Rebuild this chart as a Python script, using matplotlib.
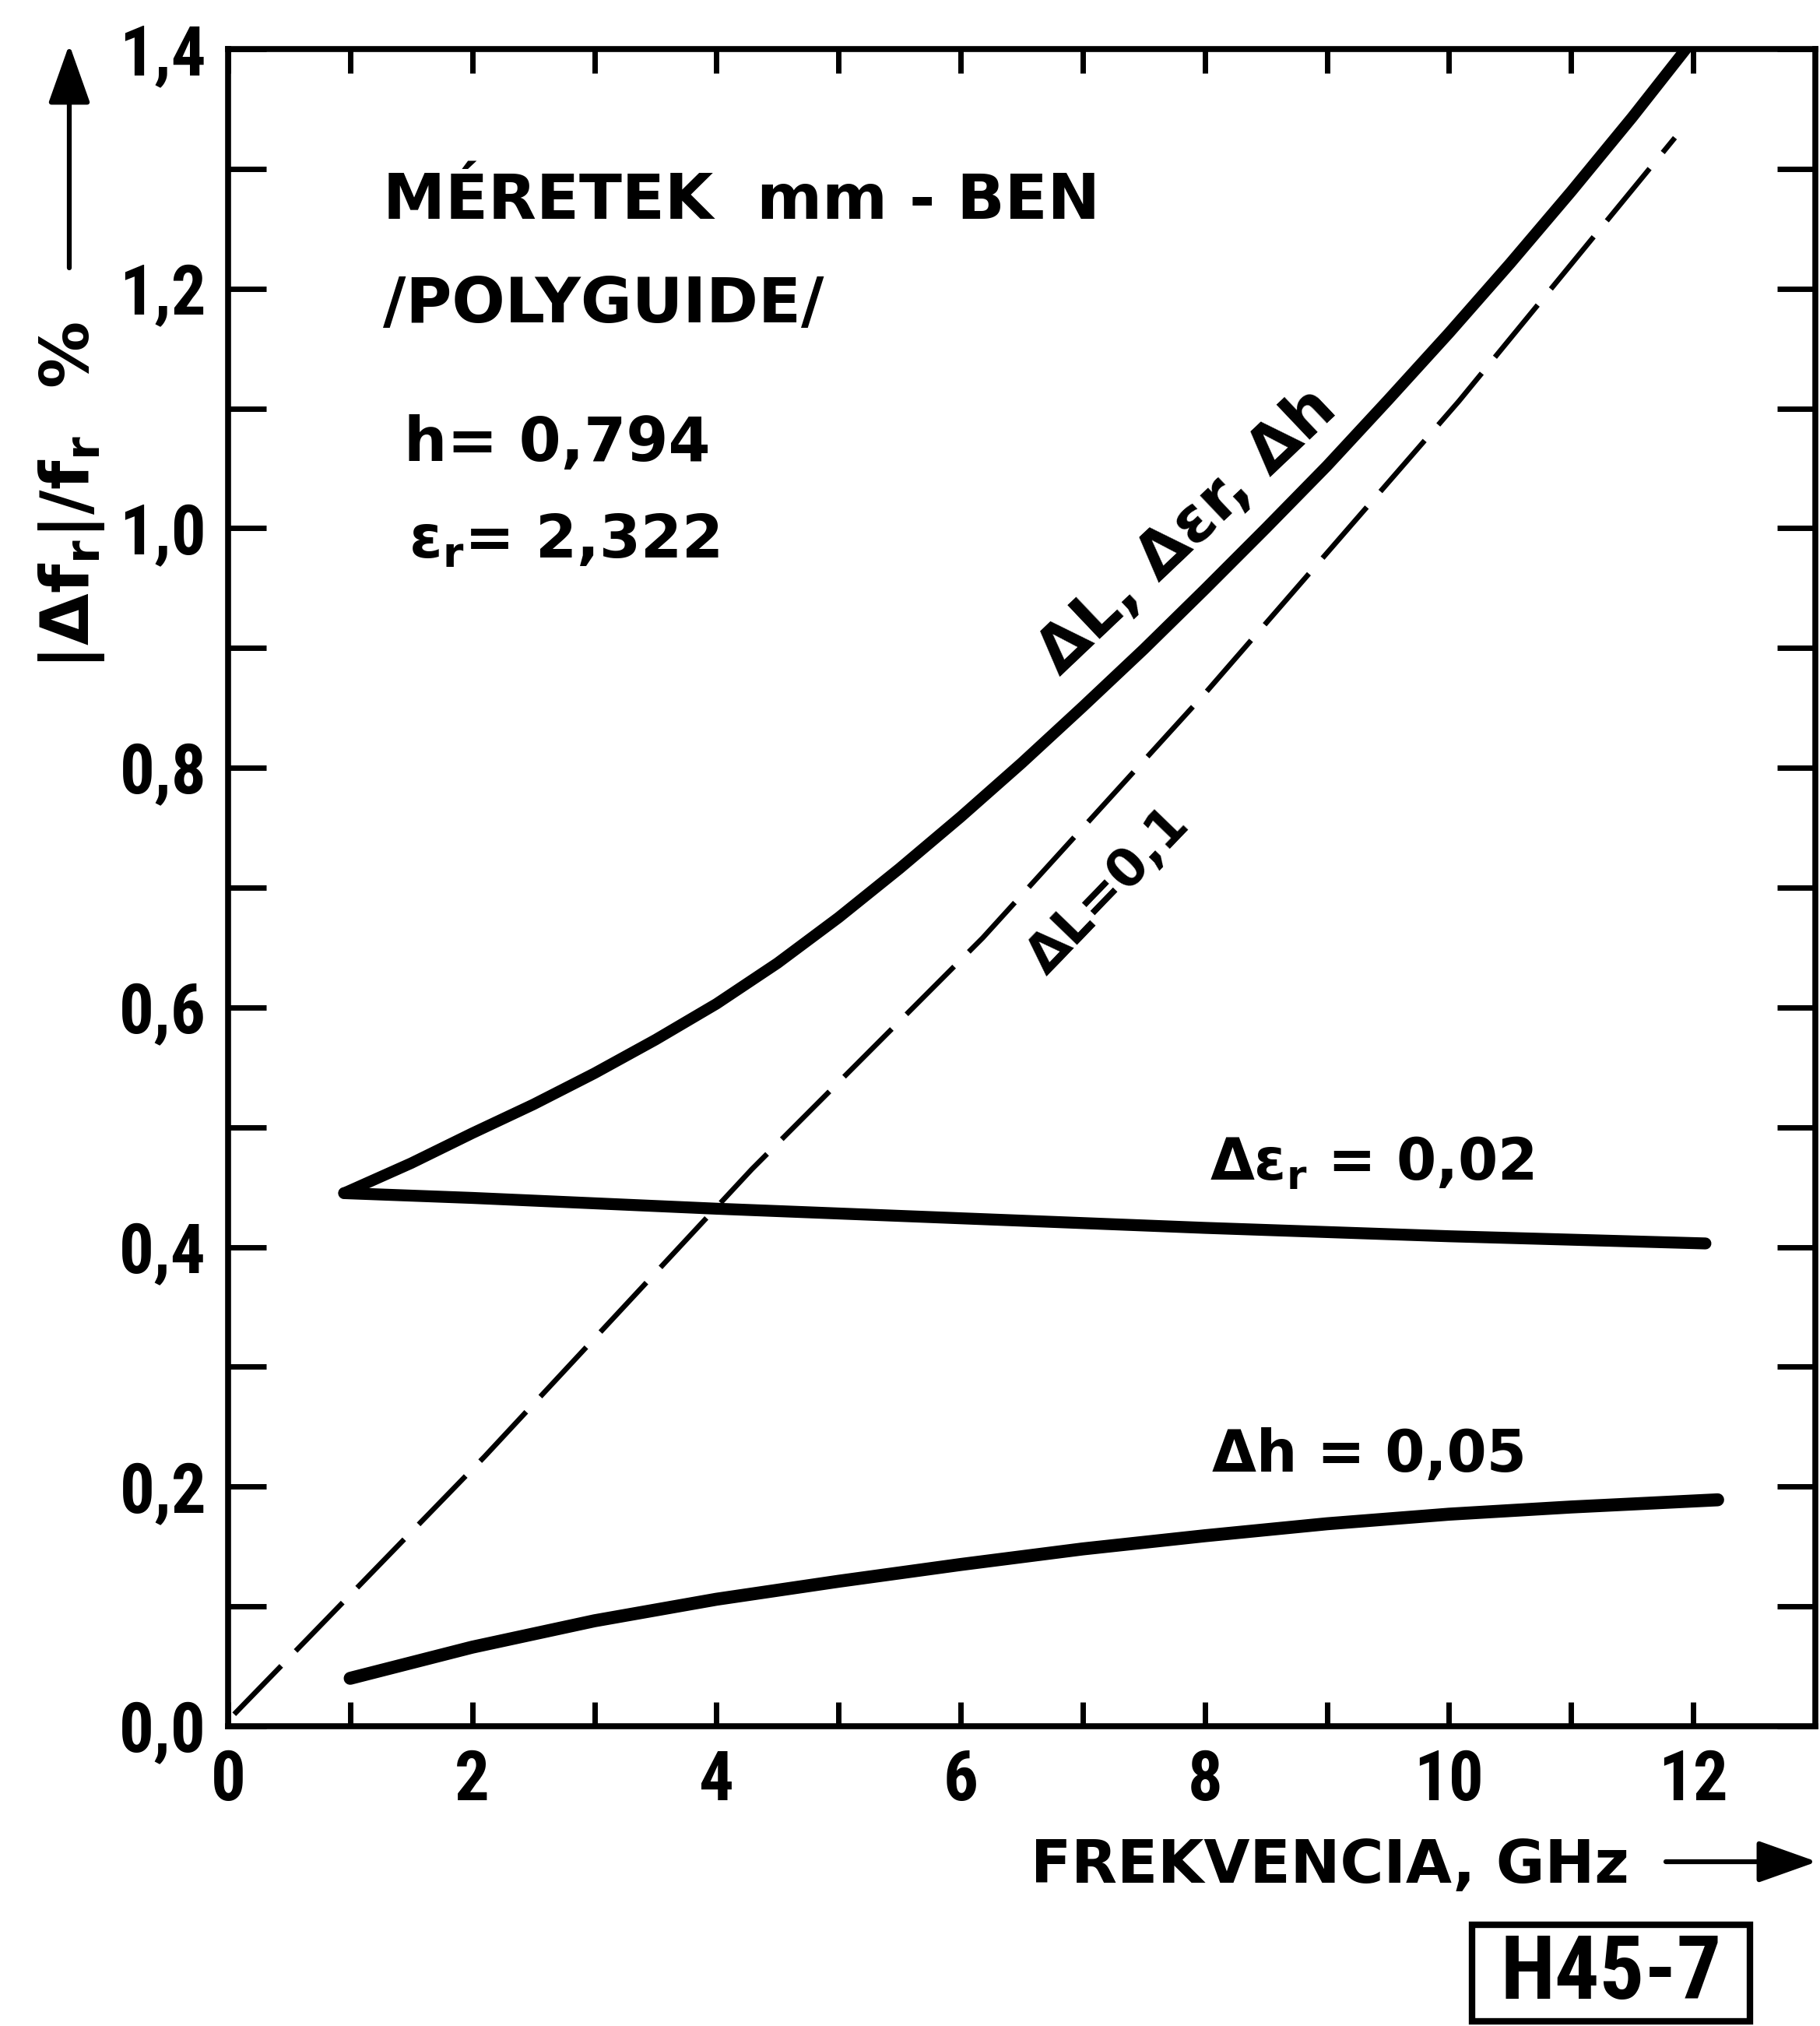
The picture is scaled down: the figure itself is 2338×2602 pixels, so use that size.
import matplotlib
matplotlib.use("Agg")
import matplotlib.pyplot as plt
from matplotlib import font_manager as fm
from matplotlib.patches import Rectangle

W, H, DPI = 2338, 2602, 100

# ---------------- data ----------------
freq_main = [0.95, 1.5, 2.0, 2.5, 3.0, 3.5, 4.0, 4.5, 5.0, 5.5, 6.0, 6.5, 7.0, 7.5,
             8.0, 8.5, 9.0, 9.5, 10.0, 10.5, 11.0, 11.5, 11.94]
df_main = [0.445, 0.470, 0.495, 0.519, 0.545, 0.573, 0.603, 0.637, 0.675, 0.716, 0.759, 0.804,
           0.851, 0.899, 0.949, 1.000, 1.052, 1.107, 1.163, 1.221, 1.281, 1.343, 1.400]

freq_dL = [0.05, 2.1, 4.29, 6.18, 8.0, 10.08, 11.85]
df_dL = [0.010, 0.225, 0.465, 0.658, 0.862, 1.106, 1.326]

freq_deps = [0.95, 2.0, 4.0, 6.0, 8.0, 10.0, 12.1]
df_deps = [0.445, 0.441, 0.432, 0.424, 0.416, 0.409, 0.403]

freq_dh = [1.0, 2.0, 3.0, 4.0, 5.0, 6.0, 7.0, 8.0, 9.0, 10.0, 11.0, 12.2]
df_dh = [0.040, 0.066, 0.088, 0.106, 0.121, 0.135, 0.148, 0.159, 0.169, 0.177, 0.183, 0.189]

x_ticks = list(range(0, 13))
x_ticklabels = ["0", "", "2", "", "4", "", "6", "", "8", "", "10", "", "12"]
y_ticks = [0.0, 0.1, 0.2, 0.3, 0.4, 0.5, 0.6, 0.7, 0.8, 0.9, 1.0, 1.1, 1.2, 1.3, 1.4]
y_ticklabels = ["0,0", "", "0,2", "", "0,4", "", "0,6", "", "0,8", "", "1,0", "", "1,2", "", "1,4"]


# ---------------- fonts ----------------
def pick(names):
    for n in names:
        try:
            fm.findfont(fm.FontProperties(family=n), fallback_to_default=False)
            return n
        except Exception:
            pass
    return None


COND = pick(["Roboto Condensed", "Open Sans Condensed", "Liberation Sans Narrow",
             "DejaVu Sans Condensed", "Noto Sans Condensed"])
BASE = "DejaVu Sans"
plt.rcParams["font.family"] = [BASE]
plt.rcParams["mathtext.fontset"] = "dejavusans"

if COND:
    tick_font = dict(family=[COND, BASE], size=64, weight="bold")
    box_font = dict(family=[COND, BASE], size=82, weight="bold")
else:
    tick_font = dict(family=[BASE], size=58, weight="normal")
    box_font = dict(family=[BASE], size=74, weight="normal")

HAND = dict(family=[BASE], weight="bold")

# ---------------- figure ----------------
fig = plt.figure(figsize=(W / DPI, H / DPI), dpi=DPI, facecolor="white")
L, R, B, T = 293 / W, 2332 / W, 1 - 2217 / H, 1 - 63 / H
ax = fig.add_axes([L, B, R - L, T - B])
ax.set_xlim(0, 13)
ax.set_ylim(0, 1.4)

for s in ax.spines.values():
    s.set_linewidth(5.5)

ax.plot(freq_dL, df_dL, color="black", lw=4.8, dashes=(13, 4), solid_capstyle="butt")
ax.plot(freq_main, df_main, color="black", lw=10.5, solid_capstyle="round", solid_joinstyle="round")
ax.plot(freq_deps, df_deps, color="black", lw=11, solid_capstyle="round")
ax.plot(freq_dh, df_dh, color="black", lw=12, solid_capstyle="round", solid_joinstyle="round")

ax.set_xticks(x_ticks)
ax.set_xticklabels(x_ticklabels, fontdict=tick_font)
ax.set_yticks(y_ticks)
ax.set_yticklabels(y_ticklabels, fontdict=tick_font)
ax.tick_params(axis="x", direction="in", length=22, width=5, top=True, bottom=True, pad=20)
ax.tick_params(axis="y", direction="in", length=35, width=5, left=True, right=True, pad=20)

# ---------------- annotations inside the axes ----------------
ax.text(1.27, 1.258, "MÉRETEK  mm - BEN", fontsize=58, ha="left", va="baseline", **HAND)
ax.text(1.27, 1.172, "/POLYGUIDE/", fontsize=58, ha="left", va="baseline", **HAND)
ax.text(1.44, 1.056, "h= 0,794", fontsize=56, ha="left", va="baseline", **HAND)
ax.text(1.48, 0.9756, "ε$_{\\mathbf{r}}$= 2,322", fontsize=55, ha="left", va="baseline", **HAND)

ax.text(7.86, 0.997, "ΔL, Δεr, Δh", fontsize=59, ha="center", va="center",
        rotation=43.5, rotation_mode="anchor", **HAND)
ax.text(7.21, 0.697, "ΔL=0,1", fontsize=48, ha="center", va="center",
        rotation=46, rotation_mode="anchor", **HAND)
ax.text(8.04, 0.456, "Δε$_{\\mathbf{r}}$ = 0,02", fontsize=53, ha="left", va="baseline", **HAND)
ax.text(8.06, 0.2125, "Δh = 0,05", fontsize=53, ha="left", va="baseline", **HAND)

# ---------------- axis titles & arrows ----------------
fig.text(92 / W, 1 - 636 / H, "|Δf$_{\\mathbf{r}}$|/f$_{\\mathbf{r}}$  %",
         fontsize=62, rotation=90, ha="center", va="center", **HAND)
fig.text(2093 / W, 1 - 2418 / H, "FREKVENCIA, GHz", fontsize=55, ha="right", va="baseline", **HAND)

arrow_style = dict(arrowstyle="-|>,head_length=0.9,head_width=0.32", mutation_scale=52,
                   lw=4.5, color="black", shrinkA=0, shrinkB=0)
ax.annotate("", xy=(89, H - 57), xytext=(89, H - 344), xycoords="figure pixels",
            textcoords="figure pixels", arrowprops=arrow_style, annotation_clip=False)
ax.annotate("", xy=(2334, H - 2391), xytext=(2140, H - 2391), xycoords="figure pixels",
            textcoords="figure pixels", arrowprops=arrow_style, annotation_clip=False)

# ---------------- figure code box ----------------
fig.add_artist(Rectangle((1891 / W, 1 - 2596 / H), 357 / W, 124 / H, transform=fig.transFigure,
                         fill=False, lw=6, ec="black"))
fig.text(2070 / W, 1 - 2536 / H, "H45-7", ha="center", va="center", fontdict=box_font)

fig.savefig("out.png", dpi=DPI, facecolor="white")
